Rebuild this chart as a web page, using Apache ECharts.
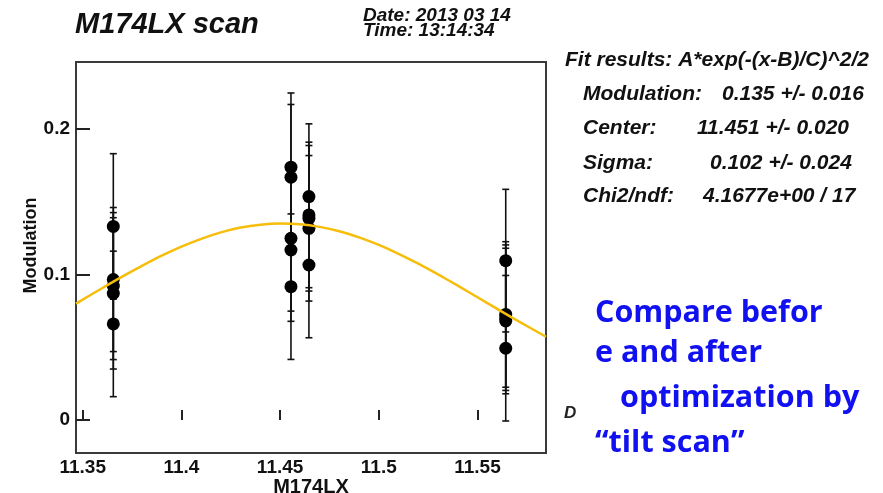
<!DOCTYPE html>
<html>
<head>
<meta charset="utf-8">
<script src="https://cdn.jsdelivr.net/npm/echarts@6/dist/echarts.min.js"></script>
<style>html,body{margin:0;padding:0;background:#fff}#c{width:883px;height:493px}</style>
</head>
<body>
<div id="c"></div>
<script>
// ---- data ----
const pointX = [
  11.3655, 11.3655, 11.3655, 11.3655, 11.3655,
  11.4555, 11.4555, 11.4555, 11.4555, 11.4555,
  11.4646, 11.4646, 11.4646, 11.4646, 11.4646,
  11.5643, 11.5643, 11.5643, 11.5643, 11.5643
];
const pointY = [
  0.133, 0.0965, 0.092, 0.087, 0.066,
  0.1737, 0.1668, 0.1248, 0.1168, 0.0916,
  0.1535, 0.1409, 0.1386, 0.1317, 0.1065,
  0.1095, 0.0725, 0.0703, 0.068, 0.0493
];
const pointErr = [
  0.050, 0.0495, 0.0505, 0.052, 0.050,
  0.051, 0.050, 0.050, 0.049, 0.050,
  0.050, 0.050, 0.050, 0.050, 0.050,
  0.049, 0.050, 0.050, 0.050, 0.050
];
const fitX = [11.3466, 11.35, 11.36, 11.37, 11.38, 11.39, 11.40, 11.41, 11.42, 11.43, 11.44, 11.45, 11.46,
              11.47, 11.48, 11.49, 11.50, 11.51, 11.52, 11.53, 11.54, 11.55, 11.56, 11.57, 11.5847];
const fitY = [0.0800, 0.0827, 0.0907, 0.0985, 0.1059, 0.1129, 0.1191, 0.1245, 0.1289, 0.1322, 0.1342, 0.1350, 0.1345,
              0.1327, 0.1297, 0.1255, 0.1203, 0.1142, 0.1074, 0.1000, 0.0923, 0.0843, 0.0763, 0.0684, 0.0572];
const xTicks = [11.35, 11.4, 11.45, 11.5, 11.55];
const yTicks = [0, 0.1, 0.2];
const titleText = 'M174LX scan';
const dateText = 'Date: 2013 03 14';
const timeText = 'Time: 13:14:34';
const fitLabels = ['Modulation:', 'Center:', 'Sigma:', 'Chi2/ndf:'];
const fitValues = ['0.135 +/- 0.016', '11.451 +/- 0.020', '0.102 +/- 0.024', '4.1677e+00 / 17'];
const noteLines = ['Compare befor', 'e and after', 'optimization by', '\u201Ctilt scan\u201D'];

const points = pointX.map((x, i) => [x, pointY[i]]);
const bars = pointX.map((x, i) => [x, pointY[i] - pointErr[i], pointY[i] + pointErr[i]]);
const fitLine = fitX.map((x, i) => [x, fitY[i]]);

const chart = echarts.init(document.getElementById('c'));
const FONT = '"Liberation Sans", Arial, sans-serif';

const fitLabelX = [583, 583, 583, 583];
const fitValueX = [722, 697, 710, 703];
const fitRowY = [94, 128, 163, 196];
const noteX = [595, 595, 620, 595];
const noteY = [313, 353, 398, 443];

const graphics = [
  {type: 'text', style: {text: titleText, x: 75, y: 25, font: 'italic bold 29px ' + FONT, fill: '#111', textVerticalAlign: 'middle'}},
  {type: 'text', style: {text: dateText, x: 363, y: 16, font: 'italic bold 19px ' + FONT, fill: '#111', textVerticalAlign: 'middle'}},
  {type: 'text', style: {text: timeText, x: 363, y: 31, font: 'italic bold 19px ' + FONT, fill: '#111', textVerticalAlign: 'middle'}},
  {type: 'text', style: {text: 'Fit results: A*exp(-(x-B)/C)^2/2', x: 565, y: 60, font: 'italic bold 21px ' + FONT, fill: '#111', textVerticalAlign: 'middle'}},
  {type: 'text', style: {text: 'D', x: 564, y: 413, font: 'italic bold 17px ' + FONT, fill: '#222', textVerticalAlign: 'middle'}}
];
fitLabels.forEach((t, i) => {
  graphics.push({type: 'text', style: {text: t, x: fitLabelX[i], y: fitRowY[i], font: 'italic bold 21px ' + FONT, fill: '#111', textVerticalAlign: 'middle'}});
  graphics.push({type: 'text', style: {text: fitValues[i], x: fitValueX[i], y: fitRowY[i], font: 'italic bold 21px ' + FONT, fill: '#111', textVerticalAlign: 'middle'}});
});
noteLines.forEach((t, i) => {
  graphics.push({type: 'text', z: 10, style: {text: t, x: noteX[i], y: noteY[i], font: 'bold 30.5px "Open Sans", Lato, sans-serif', fill: '#1010F0', textVerticalAlign: 'middle'}});
});

chart.setOption({
  backgroundColor: '#fff',
  animation: false,
  grid: {left: 76, top: 62, right: 337, bottom: 40, outerBoundsMode: 'none', containLabel: false,
         show: true, borderColor: '#3a3a3a', borderWidth: 2, backgroundColor: 'transparent'},
  xAxis: {
    type: 'value', min: 11.3466, max: 11.5847,
    name: 'M174LX', nameLocation: 'middle', nameGap: 24, nameMoveOverlap: false,
    nameTextStyle: {fontFamily: FONT, fontWeight: 'bold', fontSize: 20, color: '#111', verticalAlign: 'top'},
    axisLine: {show: false},
    splitLine: {show: false},
    axisTick: {show: true, inside: true, length: 10, customValues: xTicks, lineStyle: {color: '#222', width: 2}},
    axisLabel: {customValues: xTicks, margin: 5, fontFamily: FONT, fontWeight: 'bold', fontSize: 19, color: '#111', formatter: v => String(v)}
  },
  yAxis: {
    type: 'value', min: -0.0227, max: 0.246,
    name: 'Modulation', nameLocation: 'middle', nameGap: 36, nameMoveOverlap: false,
    nameTextStyle: {fontFamily: FONT, fontWeight: 'bold', fontSize: 18, color: '#111', padding: [0, 0, 0, 24]},
    axisLine: {show: false},
    splitLine: {show: false},
    axisTick: {show: true, inside: true, length: 14, customValues: yTicks, lineStyle: {color: '#222', width: 2}},
    axisLabel: {customValues: yTicks, margin: 6, fontFamily: FONT, fontWeight: 'bold', fontSize: 19, color: '#111', formatter: v => String(v)}
  },
  graphic: graphics,
  series: [
    {
      type: 'custom',
      data: bars,
      z: 2,
      renderItem: function (params, api) {
        const x = api.value(0);
        const lo = api.coord([x, api.value(1)]);
        const hi = api.coord([x, api.value(2)]);
        const hw = 3.5;
        const style = {stroke: '#111', lineWidth: 1.6};
        return {
          type: 'group',
          children: [
            {type: 'line', shape: {x1: lo[0], y1: lo[1], x2: hi[0], y2: hi[1]}, style: style},
            {type: 'line', shape: {x1: lo[0] - hw, y1: lo[1], x2: lo[0] + hw, y2: lo[1]}, style: style},
            {type: 'line', shape: {x1: hi[0] - hw, y1: hi[1], x2: hi[0] + hw, y2: hi[1]}, style: style}
          ]
        };
      }
    },
    {
      type: 'scatter', data: points, symbol: 'circle', symbolSize: 13, z: 3,
      itemStyle: {color: '#000', opacity: 1}
    },
    {
      type: 'line', data: fitLine, smooth: 0.3, showSymbol: false, z: 4,
      lineStyle: {color: '#F6BE0A', width: 2.5}
    }
  ]
});
</script>
</body>
</html>
